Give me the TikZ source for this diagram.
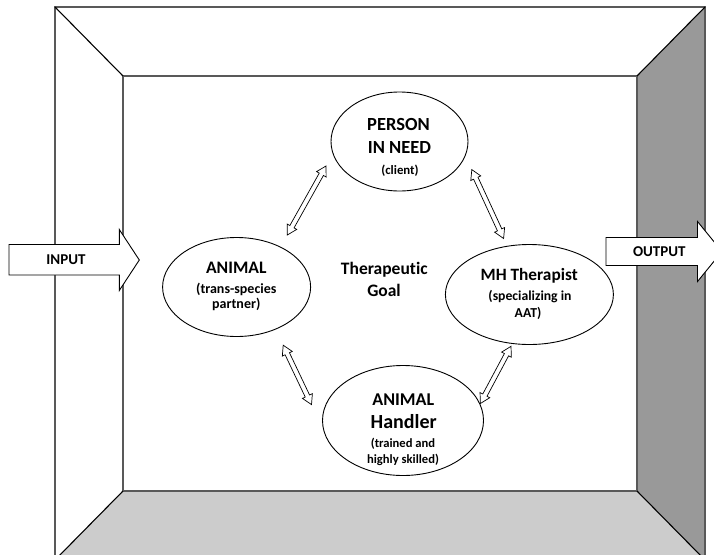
\documentclass[tikz,border=0pt]{standalone}
\usepackage{fontspec}
\setmainfont{Carlito}[Ligatures=NoCommon]
\usetikzlibrary{shapes.geometric,calc}
\tikzset{
  wall/.style={draw=black!65, line width=1.1pt},
  diag/.style={draw=black, line width=1.1pt},
  bubble/.style={ellipse, draw=black, line width=0.9pt, fill=white, inner sep=0pt},
  io/.style={draw=black, line width=0.9pt, fill=white},
  harrow/.style={draw=black, line width=0.7pt, fill=white, line join=miter},
  txt/.style={inner sep=0pt, font=\bfseries},
}
\newcommand\arrhl{9.5pt}
\newcommand\arrhw{5.5pt}
\newcommand\arrsw{2.4pt}
\newcommand\hollowarrow[2]{%
\draw[harrow] (#1)
 -- ($(#1)!\arrhl!(#2)!\arrhw!90:(#2)$)
 -- ($(#1)!\arrhl!(#2)!\arrsw!90:(#2)$)
 -- ($(#2)!\arrhl!(#1)!\arrsw!-90:(#1)$)
 -- ($(#2)!\arrhl!(#1)!\arrhw!-90:(#1)$)
 -- (#2)
 -- ($(#2)!\arrhl!(#1)!\arrhw!90:(#1)$)
 -- ($(#2)!\arrhl!(#1)!\arrsw!90:(#1)$)
 -- ($(#1)!\arrhl!(#2)!\arrsw!-90:(#2)$)
 -- ($(#1)!\arrhl!(#2)!\arrhw!-90:(#2)$)
 -- cycle;}
\begin{document}
\begin{tikzpicture}[x=1pt,y=-1pt]
\useasboundingbox (0,0) rectangle (714,554);
\clip (0,0) rectangle (714,554);
\fill[white] (0,0) rectangle (714,554);
% room
\fill[fill=black!20] (123,491) -- (637,491) -- (705,560) -- (55,560) -- cycle;
\fill[fill=black!40] (637,76) -- (705,7) -- (705,560) -- (637,491) -- cycle;
\draw[wall] (55,7) rectangle (705,560);
\draw[wall] (123,76) rectangle (637,491);
\draw[diag] (55,7) -- (123,76);
\draw[diag] (705,7) -- (637,76);
\draw[diag] (123,491) -- (55,560);
\draw[diag] (637,491) -- (705,560);
% input / output arrows
\draw[io] (9,244.5) -- (119.3,244.5) -- (119.3,229.5) -- (139.3,260) -- (119.3,290.5) -- (119.3,275) -- (9,275) -- cycle;
\node[txt, font=\bfseries\fontsize{15}{18}\selectfont] (input) at (66,259.5) {INPUT};
\draw[io] (606,237.5) -- (697.5,237.5) -- (697.5,221.5) -- (722,251.5) -- (697.5,281.5) -- (697.5,265.5) -- (606,265.5) -- cycle;
\node[txt, font=\bfseries\fontsize{15}{18}\selectfont] (output) at (659.3,251.5) {OUTPUT};
% ellipses
\node[bubble, minimum width=137pt, minimum height=99pt] (person) at (399.5,141.5) {};
\node[bubble, minimum width=148pt, minimum height=99pt] (animal) at (236.6,287) {};
\node[bubble, minimum width=168pt, minimum height=100pt] (mh) at (529.4,294.5) {};
\node[bubble, minimum width=161pt, minimum height=110pt] (handler) at (403,420.5) {};
% texts
\node[txt, font=\bfseries\fontsize{18.5}{20}\selectfont] (p1) at (398.5,124.2) {PERSON};
\node[txt, font=\bfseries\fontsize{18.5}{20}\selectfont] (p2) at (399.5,147.8) {IN NEED};
\node[txt, font=\bfseries\fontsize{12.8}{14}\selectfont] (p3) at (400,170.5) {(client)};
\node[txt, font=\bfseries\fontsize{17.6}{20}\selectfont] (a1) at (236.3,267.8) {ANIMAL};
\node[txt, font=\bfseries\fontsize{14}{16}\selectfont] (a2) at (236.3,289) {(trans-species};
\node[txt, font=\bfseries\fontsize{14}{16}\selectfont] (a3) at (236.3,304) {partner)};
\node[txt, font=\bfseries\fontsize{17.3}{20}\selectfont] (m1) at (529.2,275.5) {MH Therapist};
\node[txt, font=\bfseries\fontsize{13.7}{16}\selectfont] (m2) at (530,296.7) {(specializing in};
\node[txt, font=\bfseries\fontsize{13.7}{16}\selectfont] (m3) at (528,313.3) {AAT)};
\node[txt, font=\bfseries\fontsize{18}{20}\selectfont] (h1) at (403.3,399.7) {ANIMAL};
\node[txt, font=\bfseries\fontsize{20}{22}\selectfont] (h2) at (403.7,422) {Handler};
\node[txt, font=\bfseries\fontsize{12.6}{14}\selectfont] (h3) at (403,443.3) {(trained and};
\node[txt, font=\bfseries\fontsize{12.6}{14}\selectfont] (h4) at (403,459.5) {highly skilled)};
\node[txt, font=\bfseries\fontsize{17.5}{20}\selectfont] (g1) at (384.3,269.3) {Therapeutic};
\node[txt, font=\bfseries\fontsize{17.5}{20}\selectfont] (g2) at (384,290.5) {Goal};
% double arrows
\coordinate (ap1) at (287.3,235);
\coordinate (ap2) at (326,166);
\coordinate (pm1) at (471.8,169.6);
\coordinate (pm2) at (503.6,238.5);
\coordinate (ah1) at (283.2,345.2);
\coordinate (ah2) at (311.5,404.6);
\coordinate (hm1) at (480.4,403.5);
\coordinate (hm2) at (511,346.3);
\hollowarrow{ap1}{ap2}
\hollowarrow{pm1}{pm2}
\hollowarrow{ah1}{ah2}
\hollowarrow{hm1}{hm2}
\end{tikzpicture}
\end{document}
